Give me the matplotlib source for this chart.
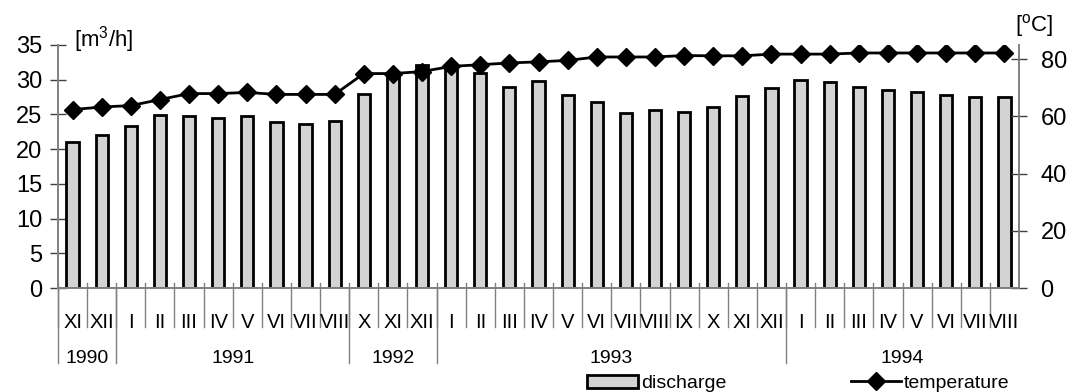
import numpy as np
import matplotlib.pyplot as plt
import matplotlib.transforms as mtransforms
from matplotlib.patches import Patch
from matplotlib.lines import Line2D

plt.rcParams['font.family'] = ['Liberation Sans', 'DejaVu Sans']
plt.rcParams['mathtext.fontset'] = 'custom'
plt.rcParams['mathtext.rm'] = 'Liberation Sans'

months = ['XI', 'XII', 'I', 'II', 'III', 'IV', 'V', 'VI', 'VII', 'VIII',
          'X', 'XI', 'XII',
          'I', 'II', 'III', 'IV', 'V', 'VI', 'VII', 'VIII', 'IX', 'X', 'XI', 'XII',
          'I', 'II', 'III', 'IV', 'V', 'VI', 'VII', 'VIII']
years = ['1990', '1991', '1992', '1993', '1994']
year_counts = [2, 8, 3, 12, 8]

discharge = [21.0, 22.0, 23.4, 24.9, 24.8, 24.5, 24.8, 23.9, 23.6, 24.0,
             27.9, 30.8, 32.1,
             32.0, 30.9, 28.9, 29.8, 27.8, 26.8, 25.2, 25.6, 25.4, 26.0, 27.6, 28.8,
             29.9, 29.7, 28.9, 28.5, 28.2, 27.8, 27.5, 27.5]
temperature = [62.4, 63.3, 63.8, 65.9, 68.0, 68.0, 68.4, 67.7, 67.7, 67.7,
               75.0, 75.0, 75.7,
               77.5, 78.1, 78.7, 79.1, 79.6, 80.8, 80.8, 80.8, 81.3, 81.2, 81.2, 81.8,
               81.8, 81.8, 82.2, 82.2, 82.2, 82.2, 82.2, 82.2]

x = np.arange(len(months))
grey = '#808080'

fig = plt.figure(figsize=(10.88, 3.92), dpi=100)
ax = fig.add_axes([0.0533, 0.2653, 0.8833, 0.620])
ax2 = ax.twinx()

ax.bar(x, discharge, width=0.42, color='#d3d3d3', edgecolor='black', linewidth=2, zorder=2)
ax2.plot(x, temperature, color='black', lw=2, marker='D', markersize=9, zorder=3)

ax.set_xlim(-0.5, len(months) - 0.5)
ax.set_ylim(0, 35)
ax.set_yticks(range(0, 36, 5))
ax2.set_ylim(0, 85)
ax2.set_yticks(range(0, 81, 20))

for a in (ax, ax2):
    a.spines['top'].set_visible(False)
    for s in ('left', 'right', 'bottom'):
        a.spines[s].set_color(grey)
        a.spines[s].set_linewidth(1.2)
    a.tick_params(axis='y', direction='inout', length=11, width=1.0, color='#404040',
                  labelsize=17, pad=6)
ax2.tick_params(axis='y', pad=10)
ax.set_xticks([])

# month and year labels under the axis
trans = mtransforms.blended_transform_factory(ax.transData, ax.transAxes)
for i, m in enumerate(months):
    ax.text(i, -0.14, m, transform=trans, ha='center', va='center', fontsize=14.5)
for b in range(len(months)):
    ax.plot([b - 0.5, b - 0.5], [0.02, -0.16], transform=trans, color=grey,
            lw=1, clip_on=False)
start = 0
for yr, n in zip(years, year_counts):
    ax.plot([start - 0.5, start - 0.5], [0, -0.31], transform=trans, color=grey,
            lw=1, clip_on=False)
    ax.text(start + n / 2 - 0.5, -0.29, yr, transform=trans, ha='center', va='center',
            fontsize=14)
    start += n

fig.text(0.068, 0.898, '[m$^{3}$/h]', fontsize=16, ha='left', va='center')
fig.text(0.933, 0.935, '[$^{\\mathrm{o}}$C]', fontsize=16, ha='left', va='center')

handles = [Patch(facecolor='#d3d3d3', edgecolor='black', linewidth=2),
           Line2D([], [], color='black', lw=2, marker='D', markersize=9)]
fig.legend(handles, ['discharge', 'temperature'], loc='center', ncol=2,
           bbox_to_anchor=(0.734, 0.022), frameon=False, fontsize=14,
           handlelength=2.6, handletextpad=0.15, columnspacing=6.4, borderpad=0)

fig.savefig('out.png', dpi=100)
